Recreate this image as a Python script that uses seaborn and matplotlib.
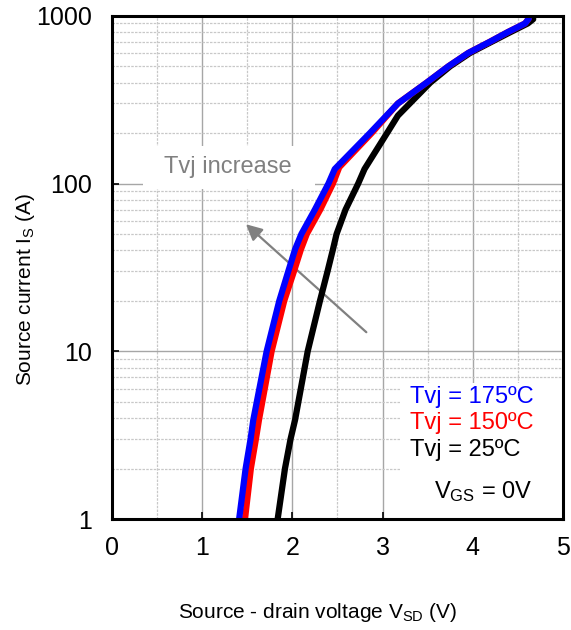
import numpy as np
import pandas as pd
import matplotlib
matplotlib.use('Agg')
import matplotlib.pyplot as plt
from matplotlib.ticker import MultipleLocator, LogLocator, NullFormatter
import seaborn as sns

# Datos (V_SD en V, I_S en A)
vsd_175 = [1.41, 1.482, 1.537, 1.567, 1.715, 1.855, 1.955, 2.03, 2.10, 2.25, 2.40, 2.47,
           2.86, 3.17, 3.49, 3.73, 3.95, 4.19, 4.39, 4.58, 4.62]
is_175 = [1, 2, 3, 3.9, 10, 20, 30, 40.5, 50, 70, 100, 122,
          200, 300, 400, 500, 600, 700, 800, 900, 961]

vsd_150 = [1.475, 1.54, 1.596, 1.63, 1.77, 1.91, 2.018, 2.095, 2.16, 2.31, 2.45, 2.52,
           2.88, 3.17, 3.49, 3.73, 3.95, 4.19, 4.39, 4.58, 4.62]
is_150 = [1, 2, 3, 3.9, 10, 20, 30, 40.5, 50, 70, 100, 125,
          200, 300, 400, 500, 600, 700, 800, 900, 961]

vsd_25 = [1.837, 1.918, 1.98, 2.03, 2.17, 2.306, 2.39, 2.45, 2.49, 2.59, 2.73, 2.80,
          3.05, 3.17, 3.53, 3.75, 3.97, 4.21, 4.42, 4.61, 4.67]
is_25 = [1, 2, 3, 3.9, 10, 20, 30, 40.5, 50, 70, 100, 122,
         200, 254, 400, 500, 600, 700, 800, 900, 955]

labels = ['Tvj = 175ºC', 'Tvj = 150ºC', 'Tvj = 25ºC']
colors = ['#0000ff', '#ff0000', '#000000']

sns.set_theme(style='white')
plt.rcParams['font.family'] = ['Liberation Sans', 'DejaVu Sans']
plt.rcParams['mathtext.fontset'] = 'custom'
plt.rcParams['mathtext.rm'] = 'Liberation Sans'
plt.rcParams['mathtext.it'] = 'Liberation Sans'

fig = plt.figure(figsize=(5.71, 6.30), dpi=100)
ax = fig.add_axes([0.196, 0.176, 0.79, 0.799])

# Curvas: negro primero, luego rojo y azul encima
for vx, iy, c in [(vsd_25, is_25, colors[2]), (vsd_150, is_150, colors[1]), (vsd_175, is_175, colors[0])]:
    df = pd.DataFrame({'V': vx, 'I': iy})
    sns.lineplot(data=df, x='V', y='I', ax=ax, color=c, linewidth=4.5, sort=False,
                 solid_capstyle='round', solid_joinstyle='round', zorder=5)

ax.set_yscale('log')
ax.set_xlim(0, 5)
ax.set_ylim(1, 1000)

ax.xaxis.set_major_locator(MultipleLocator(1))
ax.xaxis.set_minor_locator(MultipleLocator(0.5))
ax.yaxis.set_minor_locator(LogLocator(base=10, subs=np.arange(2, 10)))
ax.yaxis.set_minor_formatter(NullFormatter())
ax.set_yticks([1, 10, 100, 1000])
ax.set_yticklabels(['1', '10', '100', '1000'])

ax.grid(which='major', color='#a6a6a6', linewidth=1.0, linestyle='-', zorder=0)
ax.grid(which='minor', color='#c8c8c8', linewidth=0.9, linestyle=(0, (2, 1)), zorder=0)
ax.set_axisbelow(True)

ax.tick_params(which='major', direction='in', length=5, width=1.2, color='black',
               labelsize=18, labelcolor='black', bottom=True, left=True)
ax.tick_params(axis='x', pad=12)
ax.tick_params(axis='y', pad=14)
ax.tick_params(which='minor', length=0)
for s in ax.spines.values():
    s.set_color('black')
    s.set_linewidth(2.2)
    s.set_zorder(10)

ax.set_xlabel(r'Source - drain voltage V$_\mathregular{SD}$ (V)', fontsize=15, color='black')
ax.set_ylabel(r'Source current I$_\mathregular{S}$ (A)', fontsize=15, color='black')
ax.xaxis.set_label_coords(0.455, -0.163)
ax.yaxis.set_label_coords(-0.166, 0.457)

# Caja blanca y texto de "Tvj increase"
ax.add_patch(plt.Rectangle((0.34, 92.6), 1.91, 167 - 92.6, facecolor='white',
                           edgecolor='none', zorder=2))
ax.text(1.286, 125, 'Tvj increase', color='#808080', fontsize=17, ha='center', va='center', zorder=3)
ax.annotate('', xy=(1.486, 57.2), xytext=(2.82, 13.0),
            arrowprops=dict(arrowstyle='-|>', color='#808080', lw=1.6, mutation_scale=24,
                            shrinkA=0, shrinkB=0), zorder=4)

# Leyenda como texto
ax.add_patch(plt.Rectangle((3.2, 1.0), 1.8, 6.5 - 1.0, facecolor='white',
                           edgecolor='none', zorder=2))
ty = [5.38, 3.75, 2.58]
for t, c, y in zip(labels, colors, ty):
    ax.text(3.30, y, t, color=c, fontsize=17, ha='left', va='center', zorder=6)
ax.text(4.66, 1.46, r'V$_\mathregular{GS}$ = 0V', color='black', fontsize=17,
        ha='right', va='center', zorder=6)

fig.savefig('out.png', dpi=100)
